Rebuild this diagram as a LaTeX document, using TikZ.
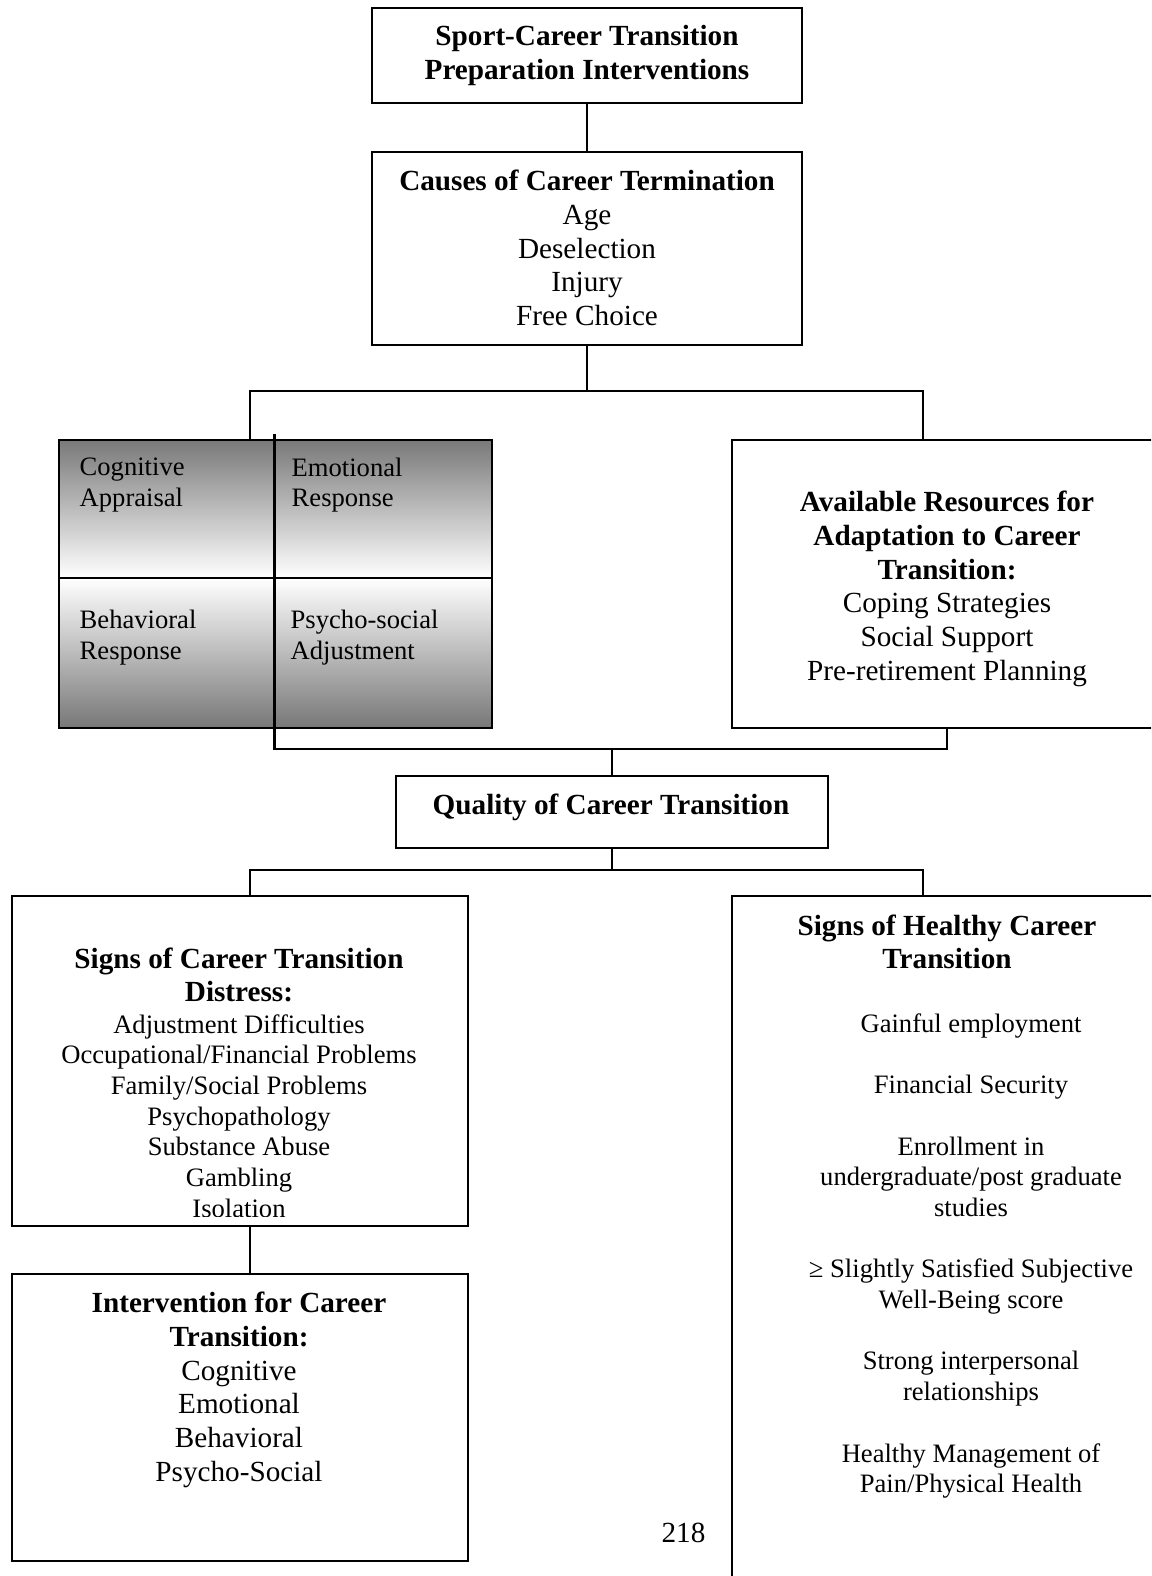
\documentclass[tikz,border=0pt]{standalone}
\usepackage{fontspec}
\setmainfont{Liberation Serif}
\definecolor{gtop}{RGB}{120,120,120}
\begin{document}
\begin{tikzpicture}[x=1pt,y=-1pt,
  box/.style={draw=black,line width=2.4pt,fill=white,inner sep=0pt,anchor=north west},
  link/.style={draw=black,line width=2.4pt},
  big/.style={font=\fontsize{29.2}{33.7}\selectfont,align=center,inner sep=0pt},
  small/.style={font=\fontsize{26.6}{30.7}\selectfont,align=center,inner sep=0pt},
  cell/.style={font=\fontsize{26.6}{30.5}\selectfont,align=left,inner sep=0pt,anchor=west}]
\useasboundingbox (0,0) rectangle (1151,1576);
\clip (0,0) rectangle (1151,1576);
\fill[white] (0,0) rectangle (1151,1576);

% boxes
\node[box,minimum width=430pt,minimum height=95pt] (top) at (371,7) {};
\node[box,minimum width=430pt,minimum height=193pt] (causes) at (371,151) {};
\shade[top color=gtop,bottom color=white] (58,439) rectangle (491,578);
\shade[top color=white,bottom color=gtop] (58,578) rectangle (491,727);
\node[box,fill=none,minimum width=433pt,minimum height=288pt] (cog) at (58,439) {};
\node[box,minimum width=480pt,minimum height=288pt] (res) at (731,439) {};
\node[box,minimum width=432pt,minimum height=72pt] (qual) at (395,775) {};
\node[box,minimum width=456pt,minimum height=330pt] (distress) at (11,895) {};
\node[box,minimum width=480pt,minimum height=720pt] (healthy) at (731,895) {};
\node[box,minimum width=456pt,minimum height=287pt] (interv) at (11,1273) {};

% coordinates
\coordinate (b1l) at (250,391);
\coordinate (b1r) at (923,391);
\coordinate (hl) at (58,578);
\coordinate (hr) at (491,578);
\coordinate (dvt) at (274.5,434);
\coordinate (dvb) at (274.5,749);
\coordinate (b2r) at (947,749);
\coordinate (b3l) at (250,870);
\coordinate (b3r) at (923,870);

% connectors
\draw[link] (top.south) -- (causes.north);
\draw[link] (causes.south) -- (causes.south |- b1l);
\draw[link] (b1l |- cog.north) -- (b1l) -- (b1r) -- (b1r |- res.north);
\draw[link] (hl) -- (hr);
\draw[link] (dvt) -- (dvb) -- (b2r) -- (b2r |- res.south);
\draw[link] (qual.north) -- (qual.north |- dvb);
\draw[link] (qual.south) -- (qual.south |- b3l);
\draw[link] (b3l |- distress.north) -- (b3l) -- (b3r) -- (b3r |- healthy.north);
\draw[link] (distress.south -| b3l) -- (interv.north -| b3l);

% texts
\node[big] (t1) at (587,55.5) {\textbf{Sport-Career Transition}\\\textbf{Preparation Interventions}};
\node[big] (t2) at (587,248) {\textbf{Causes of Career Termination}\\Age\\Deselection\\Injury\\Free Choice};
\node[cell] (c1) at (79.5,485) {Cognitive\\Appraisal};
\node[cell] (c2) at (291.5,485) {Emotional\\Response};
\node[cell] (c3) at (79.5,637.5) {Behavioral\\Response};
\node[cell] (c4) at (290.5,637.5) {Psycho-social\\Adjustment};
\node[big] (t3) at (947,589) {\textbf{Available Resources for}\\\textbf{Adaptation to Career}\\\textbf{Transition:}\\Coping Strategies\\Social Support\\Pre-retirement Planning};
\node[big] (t4) at (611,807) {\textbf{Quality of Career Transition}};
\node[big] (t5) at (239,975) {\textbf{Signs of Career Transition}\\\textbf{Distress:}};
\begin{scope}
\clip (11,895) rectangle (467,1216.5);
\node[small] (t6) at (239,1116) {Adjustment Difficulties\\Occupational/Financial Problems\\Family/Social Problems\\Psychopathology\\Substance Abuse\\Gambling\\Isolation};
\end{scope}
\node[big] (t7) at (947,942) {\textbf{Signs of Healthy Career}\\\textbf{Transition}};
\node[small] (t8) at (971,1256) {Gainful employment\\[30.7pt]Financial Security\\[30.7pt]Enrollment in\\undergraduate/post graduate\\studies\\[30.7pt]≥ Slightly Satisfied Subjective\\Well-Being score\\[30.7pt]Strong interpersonal\\relationships\\[30.7pt]Healthy Management of\\Pain/Physical Health};
\node[big] (t9) at (239,1390) {\textbf{Intervention for Career}\\\textbf{Transition:}\\Cognitive\\Emotional\\Behavioral\\Psycho-Social};
\node[big] (pg) at (683.5,1533) {218};
\end{tikzpicture}
\end{document}
